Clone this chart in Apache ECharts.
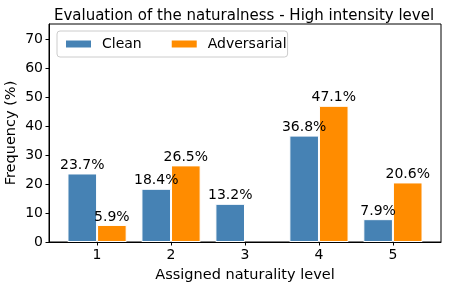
<!DOCTYPE html>
<html>
<head>
<meta charset="utf-8">
<script src="https://cdn.jsdelivr.net/npm/echarts@6/dist/echarts.min.js"></script>
<style>html,body{margin:0;padding:0;background:#fff}#c{width:451px;height:289px}</style>
</head>
<body>
<div id="c"></div>
<script>
var categories = ['1', '2', '3', '4', '5'];
var cleanValues = [23.7, 18.4, 13.2, 36.8, 7.9];
var adversarialValues = [5.9, 26.5, 0, 47.1, 20.6];
var yTicks = [0, 10, 20, 30, 40, 50, 60, 70];

var FONT = 'DejaVu Sans';
var catPos = categories.map(function (c) { return Number(c); });
function pairs(vals, off) {
  return vals.map(function (v, i) {
    return { value: [catPos[i] + off, v], itemStyle: v === 0 ? { opacity: 0 } : undefined };
  });
}
var chart = echarts.init(document.getElementById('c'), null, { renderer: 'canvas' });
var labelCfg = {
  show: true, position: 'top', distance: 1, color: '#000', fontFamily: FONT, fontSize: 14,
  formatter: function (p) { return p.value[1] === 0 ? '' : p.value[1].toFixed(1) + '%'; }
};
chart.setOption({
  animation: false,
  title: {
    text: 'Evaluation of the naturalness - High intensity level',
    left: 239, top: 4, textAlign: 'center',
    textStyle: { fontFamily: FONT, fontSize: 15, fontWeight: 'normal', color: '#000' }
  },
  legend: {
    left: 57, top: 31, orient: 'horizontal',
    padding: [6, 1, 6, 7], itemGap: 28, itemWidth: 27, itemHeight: 9,
    backgroundColor: '#fff', borderColor: '#cccccc', borderWidth: 1, borderRadius: 3,
    icon: 'rect',
    textStyle: { fontFamily: FONT, fontSize: 14, color: '#000', padding: [0, 0, 0, 5] },
    data: ['Clean', 'Adversarial']
  },
  grid: { left: 49, top: 24, width: 392, height: 218, containLabel: false, outerBoundsMode: 'none',
    show: true, borderColor: '#000', borderWidth: 1, backgroundColor: 'transparent' },
  xAxis: {
    type: 'value', min: 0.35, max: 5.65,
    name: 'Assigned naturality level', nameLocation: 'middle', nameGap: 26, nameMoveOverlap: false,
    nameTextStyle: { fontFamily: FONT, fontSize: 14.5, color: '#000' },
    axisLine: { show: true, lineStyle: { color: '#000', width: 1 } },
    axisTick: { show: true, length: 3.5, lineStyle: { color: '#000' }, customValues: catPos },
    axisLabel: { fontFamily: FONT, fontSize: 14, color: '#000', margin: 6, customValues: catPos,
      formatter: function (v) { return categories[catPos.indexOf(v)]; } },
    splitLine: { show: false }
  },
  yAxis: {
    type: 'value', min: 0, max: 75.4,
    name: 'Frequency (%)', nameLocation: 'middle', nameGap: 30, nameMoveOverlap: false,
    nameTextStyle: { fontFamily: FONT, fontSize: 14.5, color: '#000' },
    axisLine: { show: true, lineStyle: { color: '#000', width: 1 } },
    axisTick: { show: true, length: 3.5, lineStyle: { color: '#000' }, customValues: yTicks },
    axisLabel: { fontFamily: FONT, fontSize: 14, color: '#000', margin: 6, customValues: yTicks },
    splitLine: { show: false }
  },
  series: [
    {
      name: 'Clean', type: 'bar', barWidth: 29.6, barGap: '-100%',
      itemStyle: { color: '#4682b4', borderColor: '#fff', borderWidth: 1 },
      label: labelCfg, data: pairs(cleanValues, -0.2)
    },
    {
      name: 'Adversarial', type: 'bar', barWidth: 29.6, barGap: '-100%',
      itemStyle: { color: '#ff8c00', borderColor: '#fff', borderWidth: 1 },
      label: labelCfg, data: pairs(adversarialValues, 0.2)
    }
  ]
});
</script>
</body>
</html>
